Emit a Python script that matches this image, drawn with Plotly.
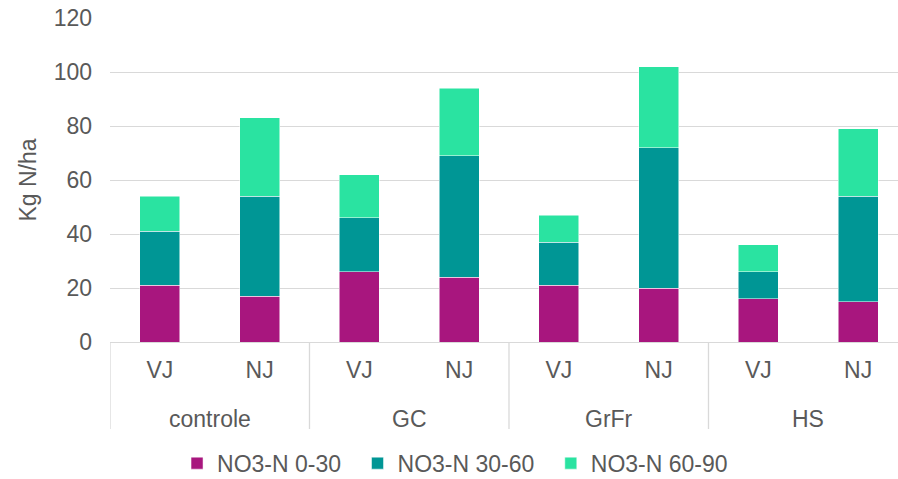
import plotly.graph_objects as go

groups = ["controle", "controle", "GC", "GC", "GrFr", "GrFr", "HS", "HS"]
periods = ["VJ", "NJ", "VJ", "NJ", "VJ", "NJ", "VJ", "NJ"]
no3_0_30 = [21, 17, 26, 24, 21, 20, 16, 15]
no3_30_60 = [20, 37, 20, 45, 16, 52, 10, 39]
no3_60_90 = [13, 29, 16, 25, 10, 30, 10, 25]
series_names = ["NO3-N 0-30", "NO3-N 30-60", "NO3-N 60-90"]
colors = ["#A8167E", "#009695", "#2AE3A1"]
y_ticks = [0, 20, 40, 60, 80, 100, 120]

cats = [f"{g} {p}" for g, p in zip(groups, periods)]

fig = go.Figure()
for name, vals, col in zip(series_names, [no3_0_30, no3_30_60, no3_60_90], colors):
    fig.add_trace(go.Bar(
        x=cats, y=vals, name=name + "\u2002",
        marker=dict(color=col, line=dict(color="white", width=0.5)),
    ))

grey = "#595959"
line_grey = "#D9D9D9"
font = dict(family="Liberation Sans, Arial, sans-serif", size=23, color=grey)

# group labels and dividers on the category axis
group_order = list(dict.fromkeys(groups))
annotations = []
shapes = []
for gname in group_order:
    idx = [i for i, g in enumerate(groups) if g == gname]
    annotations.append(dict(x=sum(idx) / len(idx), y=-0.2377, xref="x", yref="paper",
                            text=gname, showarrow=False, font=font,
                            xanchor="center", yanchor="middle"))
    shapes.append(dict(type="line", xref="x", yref="paper", x0=idx[0] - 0.5, x1=idx[0] - 0.5,
                       y0=0, y1=-0.2685, line=dict(color=line_grey, width=1.3)))

fig.update_layout(
    barmode="stack",
    bargap=0.6,
    width=898, height=479,
    margin=dict(l=110, r=0, t=18, b=137, autoexpand=False),
    paper_bgcolor="white", plot_bgcolor="white",
    font=font,
    showlegend=True,
    legend=dict(orientation="h", xref="container", yref="container",
                x=0.5134, xanchor="center", y=0.033, yanchor="middle",
                font=font, itemwidth=30, traceorder="normal"),
    annotations=annotations,
    shapes=shapes,
    yaxis=dict(range=[0, 120], tickvals=y_ticks, showgrid=True, gridcolor=line_grey,
               gridwidth=1.3, zeroline=False, showline=False, tickfont=font,
               ticks="", ticklabelstandoff=17, automargin=False,
               title=dict(text="Kg N/ha", font=font, standoff=10)),
    xaxis=dict(type="category", range=[-0.5, 7.4], showline=True, linecolor=line_grey,
               linewidth=1.3, tickvals=cats, ticktext=periods,
               tickfont=font, ticks="outside", ticklen=7, tickcolor="rgba(0,0,0,0)",
               showgrid=False, automargin=False),
)
fig.write_html("out.html", config={"displayModeBar": False},
               post_script="document.body.style.margin='0';")
